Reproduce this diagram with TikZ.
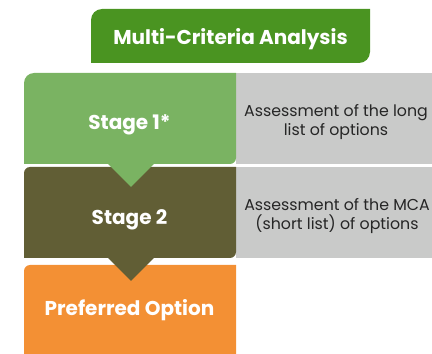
\documentclass[tikz,border=0pt]{standalone}
\usepackage{fontspec}
\setmainfont{Poppins}

\definecolor{mcagreen}{HTML}{4A9421}
\definecolor{stageone}{HTML}{7AB362}
\definecolor{stagetwo}{HTML}{615E35}
\definecolor{prefcol}{HTML}{F39034}
\definecolor{notegray}{HTML}{C9CAC9}

\tikzset{
  stagetext/.style={inner sep=0pt, text height=0.7em, text depth=0pt,
    text=white, font=\bfseries\fontsize{20}{24}\selectfont},
  notetext/.style={inner sep=0pt, align=center, text=black!85,
    font=\fontsize{15.8}{19}\selectfont},
}

\begin{document}
\begin{tikzpicture}[x=1pt,y=1pt]
		\useasboundingbox (0,0) rectangle (432,354);

		% grey notes
		\fill [notegray] (236,190) rectangle (432,281);
		\fill [notegray] (236,96) rectangle (432,187);

		% coloured stages
		\fill [mcagreen] (91,291) [rounded corners=11pt] -- (91,345) [sharp corners] -- (370,345) [rounded corners=11pt] -- (370,291) [sharp corners] -- cycle;
		\fill [stageone] (24,190) [rounded corners=10pt] -- (24,281) [sharp corners] -- (236,281) [rounded corners=6pt] -- (236,190) [sharp corners] -- cycle;
		\fill [stagetwo] (24,96) [rounded corners=6pt] -- (24,187) [sharp corners] -- (236,187) [rounded corners=6pt] -- (236,96) [sharp corners] -- cycle;
		\fill [prefcol] (24,0) [rounded corners=6pt] -- (24,89) [sharp corners] -- (236,89) -- (236,0) -- cycle;

		% pointers
		\fill [stageone] (108,190) -- (131,167) -- (154,190) -- cycle;
		\fill [stagetwo] (108,96) -- (131,73) -- (154,96) -- cycle;

		% texts
		\node [stagetext] (mca) at (230.5,313) {Multi-Criteria Analysis};
		\node [stagetext] (s1) at (129.5,228) {Stage 1*};
		\node [stagetext] (s2) at (129.5,132.5) {Stage 2};
		\node [stagetext] (pref) at (129.5,41.5) {Preferred Option};
		\node [notetext] (n1) at (336,231.5) {Assessment of the long\\list of options};
		\node [notetext] (n2) at (337,137.5) {Assessment of the MCA\\(short list) of options};

	\end{tikzpicture}
\end{document}
